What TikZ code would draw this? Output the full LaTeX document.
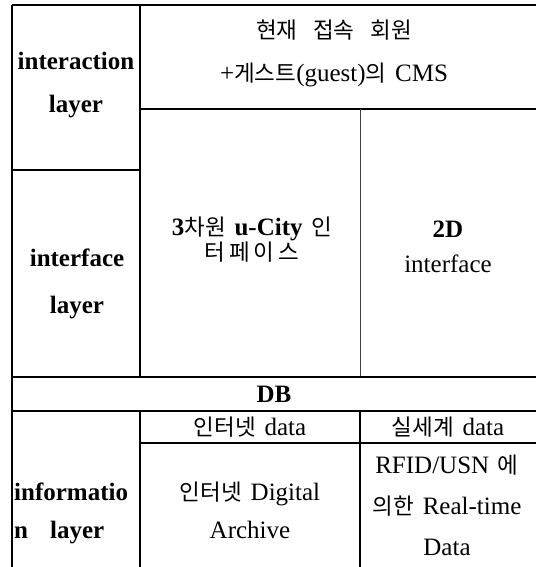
\documentclass[tikz,border=0pt]{standalone}
\usepackage{fontspec}
\setmainfont{Liberation Serif}
\newfontfamily\kr[Scale=0.9]{Noto Sans CJK KR}
\usetikzlibrary{positioning}
\newcommand\ks{\hspace{0.35em}}
\newcommand\kw{\hspace{0.7em}}

\begin{document}
\begin{tikzpicture}[x=1pt, y=-1pt,
    rule/.style={line width=1.3pt},
    faint/.style={line width=0.9pt, black!75},
    lyr/.style={font=\fontsize{25}{43}\selectfont\bfseries, align=center, inner sep=0pt},
    cell/.style={font=\fontsize{25}{40}\selectfont, align=center, inner sep=0pt}]
  \useasboundingbox (0,0) rectangle (536,567);

  % table rules
  \draw[rule] (12,5) -- (536,5);
  \draw[rule] (12,5) -- (12,567);
  \draw[rule] (140,5) -- (140,377);
  \draw[rule] (12,170) -- (140,170);
  \draw[rule] (140,109) -- (536,109);
  \draw[faint] (360,109) -- (360,377);
  \draw[rule] (12,377) -- (536,377);
  \draw[rule] (12,411) -- (536,411);
  \draw[rule] (140,411) -- (140,567);
  \draw[rule] (360,411) -- (360,567);
  \draw[rule] (140,443) -- (536,443);

  % layer names
  \node[lyr] (interaction) at (76,85) {interaction\\layer};
  \node[lyr, font=\fontsize{25}{47}\selectfont\bfseries] (interface) at (77,284) {interface\\layer};
  \node[lyr, anchor=west, align=left, font=\fontsize{25}{38}\selectfont\bfseries] (info) at (14,513) {informatio\\n\hspace{22pt}layer};

  % cells
  \node[cell, font=\fontsize{25}{43}\selectfont] (cms) at (334,53)
    {{\kr 현재\kw 접속\kw 회원}\\+{\kr 게스트}(guest){\kr 의}\ks CMS};
  \node[cell, font=\fontsize{25}{22}\selectfont] (city) at (252,240)
    {\textbf{3}{\kr 차원}\ks\textbf{u-City}\ks{\kr 인}\\{\kr 터\,페\,이\,스}};
  \node[cell, font=\fontsize{25}{35}\selectfont] (twod) at (448,247)
    {\bfseries 2D\\interface};
  \node[lyr] (db) at (274,394) {DB};
  \node[cell] (netdata) at (250,427) {{\kr 인터넷}\ks data};
  \node[cell] (realdata) at (448,427) {{\kr 실세계}\ks data};
  \node[cell, font=\fontsize{25}{38}\selectfont] (archive) at (250,510)
    {{\kr 인터넷}\ks Digital\\Archive};
  \node[cell, font=\fontsize{25}{41}\selectfont] (realtime) at (447,505)
    {RFID/USN\ks{\kr 에}\\{\kr 의한}\ks Real-time\\Data};
\end{tikzpicture}
\end{document}
